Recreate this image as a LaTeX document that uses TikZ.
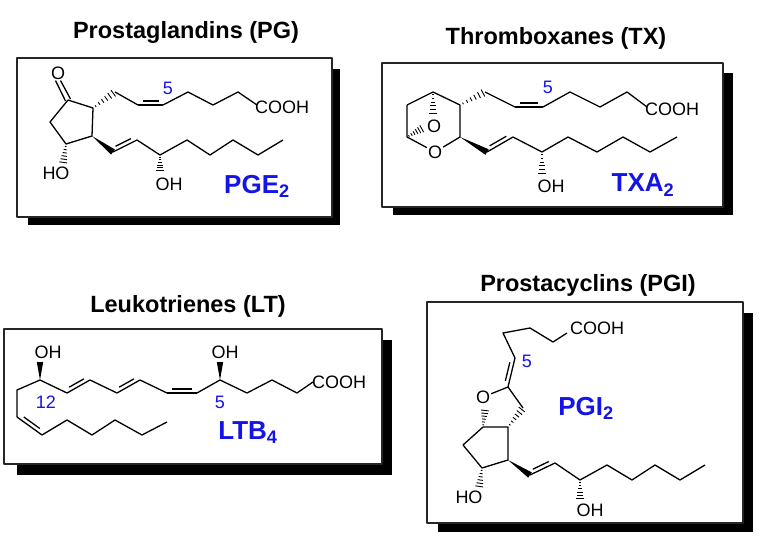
\documentclass[tikz,border=0pt]{standalone}
\usepackage{fontspec}
\setmainfont{Liberation Sans}
\usetikzlibrary{calc}
\definecolor{lblue}{RGB}{20,20,230}
\newcommand\dbond[3]{\draw (#1)--(#2); \draw ($(#1)!0.18!(#2)!#3!90:(#2)$) -- ($(#2)!0.18!(#1)!#3!-90:(#1)$);}
\newcommand\hb[2]{\foreach \t in {0.12,0.28,0.44,0.6,0.76,0.92}{\pgfmathsetmacro\w{\t*3.8+0.4}\draw[line width=0.9pt] ($(#1)!\t!(#2)!\w pt!90:(#2)$) -- ($(#1)!\t!(#2)!\w pt!-90:(#2)$);}}
\newcommand\wb[2]{\fill (#1) -- ($(#2)!3.2pt!90:(#1)$) -- ($(#2)!3.2pt!-90:(#1)$) -- cycle;}
\begin{document}
\begin{tikzpicture}[x=1pt,y=-1pt,line width=1.3pt,line join=round,
  atom/.style={inner sep=0.5pt,font=\fontsize{18}{18}\selectfont},
  title/.style={font=\bfseries\fontsize{23.5}{24}\selectfont},
  lbl/.style={text=lblue,font=\bfseries\fontsize{26}{26}\selectfont},
  num/.style={text=lblue,font=\fontsize{18}{18}\selectfont},
  panel/.style={draw=black!85,line width=1.3pt,fill=white},
  shadow/.style={fill=black}]
\useasboundingbox (0,0) rectangle (764,554);
% ---------- panels ----------
\fill[shadow] (28,69) rectangle (340,225);
\draw[panel] (17,58) rectangle (332,217);
\fill[shadow] (393,73) rectangle (733,215);
\draw[panel] (382,63) rectangle (723,207);
\fill[shadow] (17,340) rectangle (392,475);
\draw[panel] (4,329) rectangle (382,464);
\fill[shadow] (438,313) rectangle (753,532);
\draw[panel] (427,302) rectangle (743,523);
\node[title] (t1) at (186,32) {Prostaglandins (PG)};
\node[title] (t2) at (556,38) {Thromboxanes (TX)};
\node[title] (t3) at (188,306) {Leukotrienes (LT)};
\node[title] (t4) at (588,285) {Prostacyclins (PGI)};
% ---------- PGE2 ----------
\node[atom] (a_o) at (58,73) {O};
\coordinate (a9) at (68,100); \coordinate (a8) at (93,108); \coordinate (a12) at (92,136);
\coordinate (a11) at (66,144); \coordinate (a10) at (50,122);
\coordinate (a7) at (115,92); \coordinate (a6) at (138,105); \coordinate (a5) at (163,105);
\coordinate (a4) at (188,92); \coordinate (a3) at (213,105); \coordinate (a2) at (238,92); \coordinate (a1) at (257,105);
\coordinate (a13) at (113,152); \coordinate (a14) at (137,140); \coordinate (a15) at (160,155);
\coordinate (a16) at (187,140); \coordinate (a17) at (210,155); \coordinate (a18) at (233,140);
\coordinate (a19) at (258,155); \coordinate (a20) at (283,140);
\coordinate (aho) at (63,164); \coordinate (aoh) at (160,172);
\draw ($(a9)+(-2.5,1)$) -- ($(a_o.south)+(-2.5,0)$); \draw ($(a9)+(2.5,-1)$) -- ($(a_o.south)+(2.5,0)$);
\draw (a9)--(a8)--(a12)--(a11)--(a10)--(a9);
\hb{a8}{a7}
\draw (a7)--(a6); \dbond{a6}{a5}{4pt} \draw (a5)--(a4)--(a3)--(a2)--(a1);
\node[atom,anchor=west] (acooh) at (254,107) {COOH};
\node[num] (an5) at (168,88) {5};
\wb{a12}{a13} \dbond{a13}{a14}{4pt} \draw (a14)--(a15)--(a16)--(a17)--(a18)--(a19)--(a20);
\hb{a11}{aho} \node[atom] (aHO) at (56,173) {HO};
\hb{a15}{aoh} \node[atom] (aOH) at (169,184) {OH};
\node[lbl] (alab) at (257,186) {PGE\textsubscript{2}};
% ---------- TXA2 ----------
\coordinate (b1c) at (433,92); \coordinate (b2c) at (407,105); \coordinate (b3c) at (407,137);
\node[atom] (bo) at (435,152) {O};
\coordinate (b12) at (460,137); \coordinate (b8) at (460,105);
\node[atom] (bbo) at (434,126) {O};
\coordinate (bh1) at (433,115); \coordinate (bh2) at (423,128);
\draw (b2c)--(b1c)--(b8)--(b12)--(bo)--(b3c)--(b2c);
\hb{b1c}{bh1} \hb{b3c}{bh2}
\coordinate (b7) at (485,92); \coordinate (b6) at (515,107); \coordinate (b5) at (543,107);
\coordinate (b4) at (570,92); \coordinate (b3) at (600,107); \coordinate (b2) at (627,92); \coordinate (b1) at (647,107);
\hb{b8}{b7} \draw (b7)--(b6); \dbond{b6}{b5}{4pt} \draw (b5)--(b4)--(b3)--(b2)--(b1);
\node[atom,anchor=west] (bcooh) at (644,109) {COOH};
\node[num] (bn5) at (548,87) {5};
\coordinate (b13) at (487,152); \coordinate (b14) at (513,137); \coordinate (b15) at (542,152);
\coordinate (b16) at (568,137); \coordinate (b17) at (597,152); \coordinate (b18) at (623,137);
\coordinate (b19) at (650,152); \coordinate (b20) at (677,137);
\coordinate (boh) at (542,175);
\wb{b12}{b13} \dbond{b13}{b14}{4pt} \draw (b14)--(b15)--(b16)--(b17)--(b18)--(b19)--(b20);
\hb{b15}{boh} \node[atom] (bOH) at (551,186) {OH};
\node[lbl] (blab) at (643,185) {TXA\textsubscript{2}};
% ---------- LTB4 ----------
\coordinate (c12) at (40,380); \coordinate (c11) at (67,393); \coordinate (c10) at (90,380);
\coordinate (c9) at (117,393); \coordinate (c8) at (140,380); \coordinate (c7) at (167,393);
\coordinate (c6) at (197,393); \coordinate (c5) at (220,380); \coordinate (c4) at (247,393);
\coordinate (c3) at (272,380); \coordinate (c2) at (297,393); \coordinate (c1) at (313,382);
\coordinate (c13) at (17,390); \coordinate (c14) at (17,417); \coordinate (c15) at (42,435);
\coordinate (c16) at (67,420); \coordinate (c17) at (92,435); \coordinate (c18) at (115,420);
\coordinate (c19) at (142,435); \coordinate (c20) at (167,422);
\coordinate (coh1) at (40,362); \coordinate (coh2) at (220,362);
\wb{c12}{coh1} \wb{c5}{coh2}
\node[atom] (cOH1) at (48,352) {OH}; \node[atom] (cOH2) at (225,352) {OH};
\draw (c12)--(c11); \dbond{c11}{c10}{4pt} \draw (c10)--(c9); \dbond{c9}{c8}{4pt} \draw (c8)--(c7);
\dbond{c7}{c6}{4pt} \draw (c6)--(c5)--(c4)--(c3)--(c2)--(c1);
\node[atom,anchor=west] (ccooh) at (311,382) {COOH};
\draw (c12)--(c13)--(c14); \dbond{c14}{c15}{4pt} \draw (c15)--(c16)--(c17)--(c18)--(c19)--(c20);
\node[num] (cn12) at (46,402) {12}; \node[num] (cn5) at (220,402) {5};
\node[lbl] (clab) at (248,433) {LTB\textsubscript{4}};
% ---------- PGI2 ----------
\node[atom,anchor=west] (dcooh) at (569,328) {COOH};
\coordinate (d1) at (567,333); \coordinate (d2) at (553,342); \coordinate (d3) at (530,328);
\coordinate (d4) at (503,333); \coordinate (d5) at (515,358); \coordinate (d6) at (508,387);
\draw (d1)--(d2)--(d3)--(d4)--(d5); \dbond{d5}{d6}{-4pt}
\node[num] (dn5) at (527,361) {5};
\node[atom] (do) at (483,397) {O};
\coordinate (d7) at (523,408); \coordinate (d8) at (508,427); \coordinate (d9) at (483,427);
\coordinate (d10) at (463,445); \coordinate (d11) at (482,468); \coordinate (d12) at (508,460);
\coordinate (dho) at (485,409);
\draw (d6)--(do); \draw (d6)--(d7); \hb{d8}{d7} \hb{d9}{dho}
\draw (d9)--(d8)--(d12)--(d11)--(d10)--(d9);
\coordinate (dh11) at (479,488);
\hb{d11}{dh11} \node[atom] (dHO) at (469,497) {HO};
\coordinate (d13) at (530,475); \coordinate (d14) at (555,463); \coordinate (d15) at (580,480);
\coordinate (d16) at (607,465); \coordinate (d17) at (632,480); \coordinate (d18) at (655,465);
\coordinate (d19) at (680,480); \coordinate (d20) at (705,465); \coordinate (doh) at (580,500);
\wb{d12}{d13} \dbond{d13}{d14}{4pt} \draw (d14)--(d15)--(d16)--(d17)--(d18)--(d19)--(d20);
\hb{d15}{doh} \node[atom] (dOH) at (590,510) {OH};
\node[lbl] (dlab) at (586,408) {PGI\textsubscript{2}};
\end{tikzpicture}
\end{document}
